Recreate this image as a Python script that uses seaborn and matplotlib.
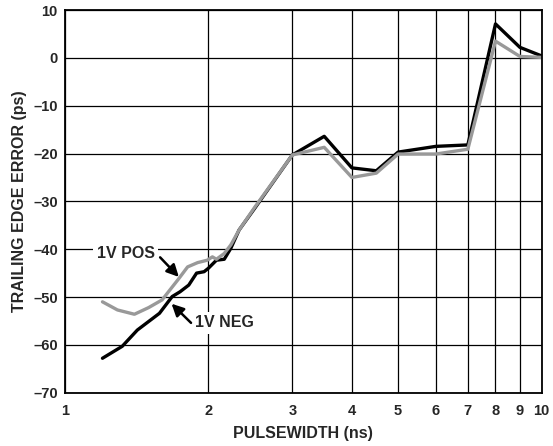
import matplotlib
matplotlib.use("Agg")
import matplotlib.pyplot as plt
import matplotlib.ticker as mticker
import seaborn as sns

# pulsewidth (ns) and trailing edge error (ps)
neg_x = [1.2, 1.32, 1.42, 1.58, 1.68, 1.745, 1.82, 1.89, 1.96, 2.0, 2.08, 2.16,
         2.23, 2.32, 2.5, 3.0, 3.5, 4.0, 4.5, 5.0, 6.0, 7.0, 8.0, 9.0, 10.0]
neg_y = [-62.8, -60.3, -56.9, -53.4, -49.9, -48.9, -47.5, -45.0, -44.7, -44.0,
         -42.3, -42.1, -39.8, -36.0, -31.5, -20.3, -16.4, -23.0, -23.6, -19.7,
         -18.5, -18.2, 7.1, 2.2, 0.4]

pos_x = [1.2, 1.29, 1.40, 1.50, 1.60, 1.73, 1.81, 1.90, 1.99, 2.04, 2.08, 2.16,
         2.23, 2.32, 2.5, 3.0, 3.5, 4.0, 4.5, 5.0, 6.0, 7.0, 8.0, 9.0, 10.0]
pos_y = [-51.0, -52.7, -53.6, -52.2, -50.6, -46.3, -43.7, -42.8, -42.3, -41.6,
         -42.1, -40.9, -39.1, -36.0, -31.3, -20.3, -18.7, -25.0, -24.1, -20.1,
         -20.1, -19.1, 3.5, 0.3, 0.1]

x_ticks = [1, 2, 3, 4, 5, 6, 7, 8, 9, 10]
y_ticks = [-70, -60, -50, -40, -30, -20, -10, 0, 10]

sns.set_style("white")
plt.rcParams['font.family'] = ['Liberation Sans', 'DejaVu Sans']
plt.rcParams['font.weight'] = 'bold'

fig = plt.figure(figsize=(5.53, 4.46), dpi=100)
ax = fig.add_axes([0.117, 0.1195, 0.8626, 0.858])

sns.lineplot(x=neg_x, y=neg_y, sort=False, color="black", linewidth=2.4, ax=ax)
sns.lineplot(x=pos_x, y=pos_y, sort=False, color="#999999", linewidth=2.4, ax=ax)

ax.set_xscale("log")
ax.set_xlim(1, 10)
ax.set_ylim(-70, 10)
ax.xaxis.set_major_locator(mticker.FixedLocator(x_ticks))
ax.xaxis.set_minor_locator(mticker.NullLocator())
ax.xaxis.set_major_formatter(mticker.FixedFormatter([str(t) for t in x_ticks]))
ax.set_yticks(y_ticks)
ax.set_yticklabels([str(t).replace("-", "\u2013") for t in y_ticks])
ax.tick_params(length=0, labelsize=10.5)
ax.tick_params(axis="x", pad=8)
ax.tick_params(axis="y", pad=5)
for lab in ax.get_xticklabels() + ax.get_yticklabels():
    lab.set_fontweight("bold")

ax.grid(True, color="black", linewidth=0.9)
ax.set_axisbelow(True)
for s in ax.spines.values():
    s.set_color("black")
    s.set_linewidth(1.3)

ax.set_xlabel("PULSEWIDTH (ns)", fontsize=11.5, fontweight="bold", labelpad=6)
ax.set_ylabel("TRAILING EDGE ERROR (ps)", fontsize=11.5, fontweight="bold", labelpad=4)

# callouts: text with white box over the grid, arrows drawn separately
ax.text(1.342, -40.8, "1V POS", fontsize=11.5, fontweight="bold",
        ha="center", va="center",
        bbox=dict(boxstyle="square,pad=0.2", fc="white", ec="none"))
ax.annotate("", xy=(1.735, -45.8), xytext=(1.585, -41.7),
            arrowprops=dict(arrowstyle="-|>", color="black", lw=1.8,
                            shrinkA=0, shrinkB=0, mutation_scale=18))
ax.text(2.16, -55.4, "1V NEG", fontsize=11.5, fontweight="bold",
        ha="center", va="center",
        bbox=dict(boxstyle="square,pad=0.2", fc="white", ec="none"))
ax.annotate("", xy=(1.675, -51.4), xytext=(1.84, -55.4),
            arrowprops=dict(arrowstyle="-|>", color="black", lw=1.8,
                            shrinkA=0, shrinkB=0, mutation_scale=18))

fig.savefig("out.png", dpi=100)
